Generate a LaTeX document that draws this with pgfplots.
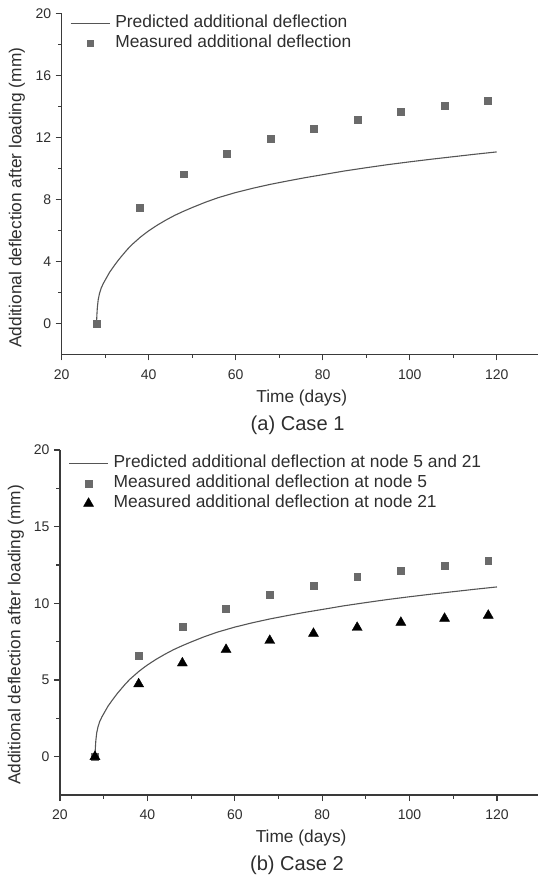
\documentclass[border=0pt]{standalone}
\usepackage{fontspec}
\setmainfont{Liberation Sans}
\usepackage{pgfplots}
\usepackage{pgfplotstable}
\pgfplotsset{compat=1.18}
\definecolor{sqgray}{HTML}{6a6a6a}
\definecolor{linegray}{HTML}{555555}
\definecolor{axgray}{HTML}{3a3a3a}
\definecolor{txtgray}{HTML}{2e2e2e}

\pgfplotstableread{
x y
28 0
28.1 0.6
28.2 1.05
28.4 1.55
28.7 1.95
29.1 2.3
29.6 2.6
30.2 2.9
31 3.3
32 3.7
33 4.08
34 4.42
35 4.75
36 5.05
37 5.3
38 5.55
39 5.77
40 5.98
42 6.35
44 6.68
46 6.98
48 7.24
50 7.48
53 7.82
56 8.12
60 8.45
64 8.73
68 8.98
72 9.2
76 9.41
80 9.6
85 9.84
90 10.05
95 10.25
100 10.43
105 10.6
110 10.76
115 10.92
120 11.07
}\curvedata

\pgfplotstableread{
x y
28 0
38 7.48
48 9.63
58 10.94
68 11.9
78 12.58
88 13.16
98 13.65
108 14.04
118 14.38
}\measA

\pgfplotstableread{
x y
28 0
38 6.6
48 8.5
58 9.67
68 10.55
78 11.17
88 11.72
98 12.11
108 12.48
118 12.79
}\measBfive

\pgfplotstableread{
x y
28 0
38 4.74
48 6.1
58 6.98
68 7.57
78 8.03
88 8.42
98 8.75
108 9.01
118 9.21
}\measBtwentyone

\pgfplotsset{
  mystyle/.style={
    scale only axis,
    axis lines=left,
    axis line style={-, draw=axgray, line width=1.2pt},
    tick align=outside,
    tick style={draw=axgray, line width=1.1pt},
    major tick length=6pt,
    minor tick length=3.5pt,
    xmin=20, xmax=130,
    xtick={20,40,...,120},
    minor x tick num=1,
    minor y tick num=1,
    tick label style={font=\fontsize{14}{16}\selectfont, text=txtgray},
    xticklabel style={yshift=-5.5pt},
    yticklabel style={xshift=-1pt},
    /pgf/number format/assume math mode=true,
    label style={font=\fontsize{17.3}{20}\selectfont, text=txtgray},
    xlabel={Time (days)},
    ylabel={Additional deflection after loading (mm)},
    legend style={draw=none, fill=none, inner sep=0pt, text=txtgray,
      font=\fontsize{17.4}{20}\selectfont,
      nodes={text height=12.5pt, text depth=3.5pt, inner sep=1.5pt}, row sep=1pt,
      /tikz/every odd column/.style={column sep=3.5pt}},
    legend cell align=left,
    legend image code/.code={\draw[mark repeat=2,mark phase=2,##1] plot coordinates {(0pt,0pt) (19.5pt,0pt) (39pt,0pt)};},
    clip=false,
  }
}

\begin{document}
\begin{tikzpicture}
\path[use as bounding box] (0,0) rectangle (538pt,879pt);

\begin{axis}[mystyle,
  at={(61.7pt,524.5pt)}, anchor=south west,
  width=478.5pt, height=341pt,
  ymin=-2, ymax=20,
  ytick={0,4,...,20},
  xlabel style={at={(axis description cs:0.5016,-0.127)}, anchor=center},
  ylabel style={at={(axis description cs:-0.0934,0.46)}, anchor=center},
  legend style={at={(rel axis cs:0.0173,1.0)}, anchor=north west},
]
\addplot[linegray, line width=1.1pt] table[x=x,y=y] {\curvedata};
\addlegendentry{Predicted additional deflection}
\addplot[only marks, mark=square*, mark size=3.4pt, color=sqgray] table[x=x,y=y] {\measA};
\addlegendentry{Measured additional deflection}
\node[font=\fontsize{20.1}{24}\selectfont, text=txtgray] at (rel axis cs:0.493,0) [yshift=-70.5pt] {(a) Case 1};
\end{axis}

\begin{axis}[mystyle,
  at={(60pt,84pt)}, anchor=south west,
  width=480.7pt, height=345pt,
  ymin=-2.5, ymax=20,
  ytick={0,5,...,20},
  xlabel style={at={(axis description cs:0.5016,-0.1255)}, anchor=center},
  ylabel style={at={(axis description cs:-0.092,0.464)}, anchor=center},
  legend style={at={(rel axis cs:0.0173,0.989)}, anchor=north west},
]
\addplot[linegray, line width=1.1pt] table[x=x,y=y] {\curvedata};
\addlegendentry{Predicted additional deflection at node 5 and 21}
\addplot[only marks, mark=square*, mark size=3.4pt, color=sqgray] table[x=x,y=y] {\measBfive};
\addlegendentry{Measured additional deflection at node 5}
\addplot[only marks, mark=triangle*, mark size=5.8pt, color=black] table[x=x,y=y] {\measBtwentyone};
\addlegendentry{Measured additional deflection at node 21}
\node[font=\fontsize{20.1}{24}\selectfont, text=txtgray] at (rel axis cs:0.493,0) [yshift=-70.5pt] {(b) Case 2};
\end{axis}
\end{tikzpicture}
\end{document}
